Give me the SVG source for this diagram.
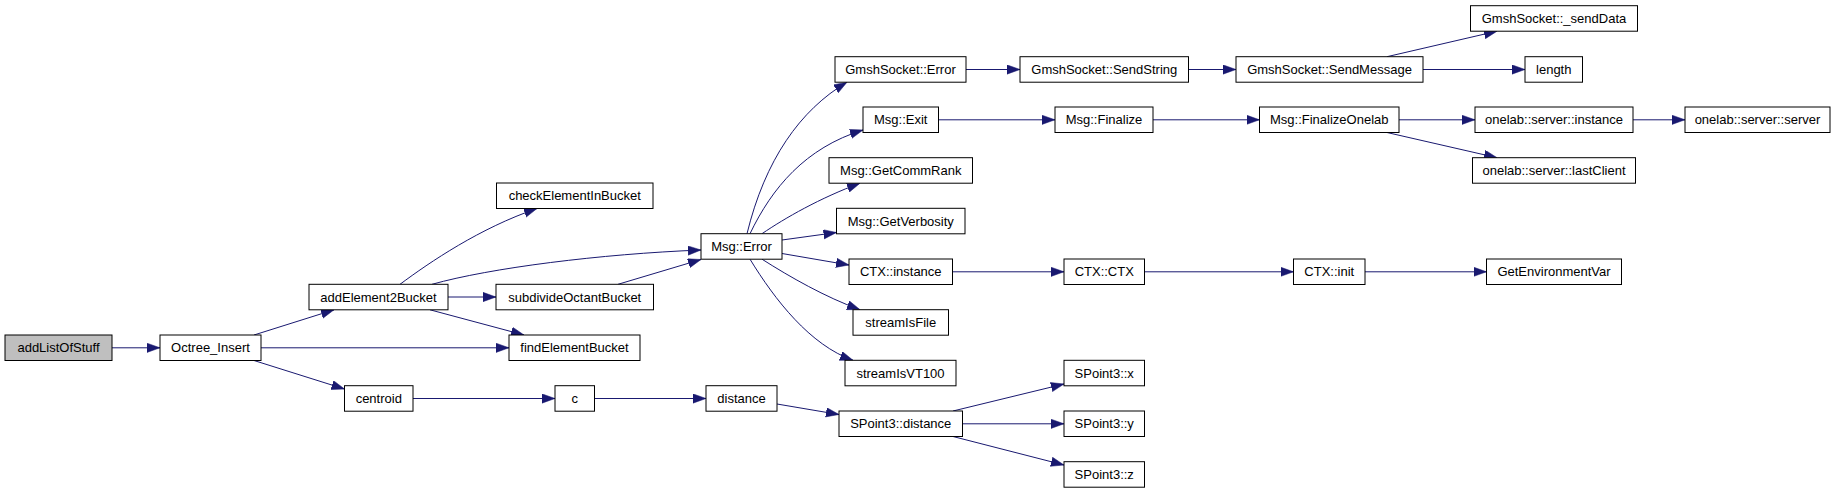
<svg xmlns="http://www.w3.org/2000/svg" width="1835" height="493" viewBox="0 0 1835 493">
<style>
.n rect{fill:#ffffff;stroke:#000000;stroke-width:1}
.n.root rect{fill:#bfbfbf}
.n text{font-family:"Liberation Sans",Arial,Helvetica,sans-serif;font-size:13px;fill:#000000;text-anchor:middle}
.e path{fill:none;stroke:#191970;stroke-width:1;marker-end:url(#arr)}
</style>
<defs>
<marker id="arr" markerUnits="userSpaceOnUse" markerWidth="14" markerHeight="10" refX="13" refY="4.65" orient="auto" viewBox="0 0 14 10"><path d="M0,0 L13,4.65 L0,9.3 z" fill="#191970" stroke="#191970" stroke-width="0.5"/></marker>
</defs>
<rect width="1835" height="493" fill="#ffffff"/>
<g id="connectors" class="e">
<path d="M112,347.8 H160"/>
<path d="M254,335 L334,309.8"/>
<path d="M261,347.8 H509"/>
<path d="M254,360.5 L344.5,389"/>
<path d="M400,284.3 C430,262 480,228 537,208.5"/>
<path d="M432,284.3 C490,268 600,254 701,250"/>
<path d="M448,297 H496"/>
<path d="M430,309.8 L524,335"/>
<path d="M618,284.3 L701,259.5"/>
<path d="M413,398.5 H555"/>
<path d="M594.5,398.5 H706"/>
<path d="M777,404 L839,414.5"/>
<path d="M953,411 L1064,384"/>
<path d="M962.5,423.8 H1064"/>
<path d="M953,436.5 L1064,465"/>
<path d="M747,233.7 C765,160 800,110 847,82.2"/>
<path d="M750,233.7 C772,188 805,148 863,130"/>
<path d="M762,233.7 C785,218 820,198 860,183.2"/>
<path d="M782,240 L836.5,232.5"/>
<path d="M782,253.5 L849,265"/>
<path d="M762,259.2 C790,277 825,297 860,309.7"/>
<path d="M750,259.2 C775,300 810,345 853,360.3"/>
<path d="M966,69.5 H1020"/>
<path d="M1188.5,69.5 H1236"/>
<path d="M1387,56.7 L1497,31.2"/>
<path d="M1423,69.5 H1525"/>
<path d="M938.5,119.8 H1055"/>
<path d="M1153,119.8 H1259.5"/>
<path d="M1399,119.8 H1475"/>
<path d="M1387,132.5 L1497,157.7"/>
<path d="M1633,119.8 H1685"/>
<path d="M952.5,271.8 H1064"/>
<path d="M1144.5,271.8 H1293.5"/>
<path d="M1365,271.8 H1486.5"/>
</g>
<g id="n_addListOfStuff" class="n root"><rect x="5" y="335" width="107" height="25.5"/><text x="58.5" y="352.3">addListOfStuff</text></g>
<g id="n_Octree_Insert" class="n"><rect x="160" y="335" width="101" height="25.5"/><text x="210.5" y="352.3">Octree_Insert</text></g>
<g id="n_addElement2Bucket" class="n"><rect x="309" y="284.3" width="139" height="25.5"/><text x="378.5" y="301.6">addElement2Bucket</text></g>
<g id="n_checkElementInBucket" class="n"><rect x="496.5" y="183" width="156.5" height="25.5"/><text x="574.75" y="200.3">checkElementInBucket</text></g>
<g id="n_subdivideOctantBucket" class="n"><rect x="496" y="284.3" width="157.5" height="25.5"/><text x="574.75" y="301.6">subdivideOctantBucket</text></g>
<g id="n_findElementBucket" class="n"><rect x="509" y="335" width="131" height="25.5"/><text x="574.5" y="352.3">findElementBucket</text></g>
<g id="n_centroid" class="n"><rect x="344.5" y="385.7" width="68.5" height="25.5"/><text x="378.75" y="403">centroid</text></g>
<g id="n_c" class="n"><rect x="555" y="385.7" width="39.5" height="25.5"/><text x="574.75" y="403">c</text></g>
<g id="n_distance" class="n"><rect x="706" y="385.7" width="71" height="25.5"/><text x="741.5" y="403">distance</text></g>
<g id="n_Msg_Error" class="n"><rect x="701" y="233.7" width="81" height="25.5"/><text x="741.5" y="251">Msg::Error</text></g>
<g id="n_GmshSocket_Error" class="n"><rect x="835" y="56.7" width="131" height="25.5"/><text x="900.5" y="74">GmshSocket::Error</text></g>
<g id="n_Msg_Exit" class="n"><rect x="863" y="107" width="75.5" height="25.5"/><text x="900.75" y="124.3">Msg::Exit</text></g>
<g id="n_Msg_GetCommRank" class="n"><rect x="829" y="157.7" width="143.5" height="25.5"/><text x="900.75" y="175">Msg::GetCommRank</text></g>
<g id="n_Msg_GetVerbosity" class="n"><rect x="836.5" y="208.3" width="128.5" height="25.5"/><text x="900.75" y="225.6">Msg::GetVerbosity</text></g>
<g id="n_CTX_instance" class="n"><rect x="849" y="259" width="103.5" height="25.5"/><text x="900.75" y="276.3">CTX::instance</text></g>
<g id="n_streamIsFile" class="n"><rect x="853" y="309.7" width="95.5" height="25.5"/><text x="900.75" y="327">streamIsFile</text></g>
<g id="n_streamIsVT100" class="n"><rect x="845" y="360.3" width="111" height="25.5"/><text x="900.5" y="377.6">streamIsVT100</text></g>
<g id="n_SPoint3_distance" class="n"><rect x="839" y="411" width="123.5" height="25.5"/><text x="900.75" y="428.3">SPoint3::distance</text></g>
<g id="n_GmshSocket_SendString" class="n"><rect x="1020" y="56.7" width="168.5" height="25.5"/><text x="1104.25" y="74">GmshSocket::SendString</text></g>
<g id="n_GmshSocket_SendMessage" class="n"><rect x="1236" y="56.7" width="187" height="25.5"/><text x="1329.5" y="74">GmshSocket::SendMessage</text></g>
<g id="n_Msg_Finalize" class="n"><rect x="1055" y="107" width="98" height="25.5"/><text x="1104" y="124.3">Msg::Finalize</text></g>
<g id="n_Msg_FinalizeOnelab" class="n"><rect x="1259.5" y="107" width="139.5" height="25.5"/><text x="1329.25" y="124.3">Msg::FinalizeOnelab</text></g>
<g id="n_CTX_CTX" class="n"><rect x="1064" y="259" width="80.5" height="25.5"/><text x="1104.25" y="276.3">CTX::CTX</text></g>
<g id="n_CTX_init" class="n"><rect x="1293.5" y="259" width="71.5" height="25.5"/><text x="1329.25" y="276.3">CTX::init</text></g>
<g id="n_SPoint3_x" class="n"><rect x="1064" y="360.3" width="80.5" height="25.5"/><text x="1104.25" y="377.6">SPoint3::x</text></g>
<g id="n_SPoint3_y" class="n"><rect x="1064" y="411" width="80.5" height="25.5"/><text x="1104.25" y="428.3">SPoint3::y</text></g>
<g id="n_SPoint3_z" class="n"><rect x="1064" y="461.7" width="80.5" height="25.5"/><text x="1104.25" y="479">SPoint3::z</text></g>
<g id="n_GmshSocket__sendData" class="n"><rect x="1470.5" y="5.7" width="167" height="25.5"/><text x="1554" y="23">GmshSocket::_sendData</text></g>
<g id="n_length" class="n"><rect x="1525" y="56.7" width="57.5" height="25.5"/><text x="1553.75" y="74">length</text></g>
<g id="n_onelab_server_instance" class="n"><rect x="1475" y="107" width="158" height="25.5"/><text x="1554" y="124.3">onelab::server::instance</text></g>
<g id="n_onelab_server_server" class="n"><rect x="1685" y="107" width="145" height="25.5"/><text x="1757.5" y="124.3">onelab::server::server</text></g>
<g id="n_onelab_server_lastClient" class="n"><rect x="1472.5" y="157.7" width="163" height="25.5"/><text x="1554" y="175">onelab::server::lastClient</text></g>
<g id="n_GetEnvironmentVar" class="n"><rect x="1486.5" y="259" width="135" height="25.5"/><text x="1554" y="276.3">GetEnvironmentVar</text></g>
</svg>
